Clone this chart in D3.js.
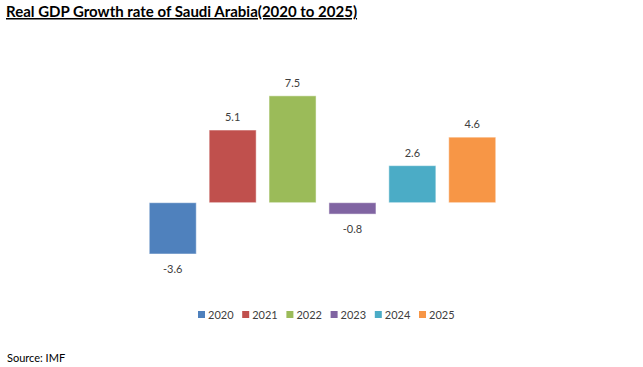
<!DOCTYPE html>
<html><head><meta charset="utf-8">
<script src="https://cdn.jsdelivr.net/npm/d3@7"></script>
<style>body{margin:0;background:#fff;} svg{display:block;}</style>
</head><body>
<svg id="c" width="643" height="367"></svg>
<script>
const years = ["2020","2021","2022","2023","2024","2025"];
const growth = [-3.6, 5.1, 7.5, -0.8, 2.6, 4.6];
const colors = ["#4F81BD","#C0504D","#9BBB59","#8064A2","#4BACC6","#F79646"];
const title = "Real GDP Growth rate of Saudi Arabia(2020 to 2025)";
const source = "Source: IMF";

const svg = d3.select("#c");
const font = "Lato, 'Open Sans', sans-serif";

const x = d3.scaleBand().domain(years).range([142.8, 502.2]).paddingInner(0.215).paddingOuter(0.1075);
const y = d3.scaleLinear().domain([-6, 10]).range([288.2, 60.2]);

svg.append("text").attr("x", 6).attr("y", 17).attr("font-family", font)
  .attr("font-size", 15).attr("font-weight", "bold").attr("fill", "#000")
  .attr("text-decoration", "underline").text(title);

svg.selectAll("rect.bar").data(years).join("rect").attr("class","bar")
  .attr("x", d => x(d))
  .attr("width", x.bandwidth())
  .attr("y", (d,i) => y(Math.max(0, growth[i])))
  .attr("height", (d,i) => Math.abs(y(growth[i]) - y(0)))
  .attr("fill", (d,i) => colors[i])
  .attr("stroke", "#ffffff").attr("stroke-opacity", 0.5).attr("stroke-width", 1);

svg.selectAll("text.lbl").data(years).join("text").attr("class","lbl")
  .attr("x", d => x(d) + x.bandwidth()/2)
  .attr("y", (d,i) => growth[i] >= 0 ? y(growth[i]) - 9 : y(growth[i]) + 19)
  .attr("text-anchor", "middle").attr("font-family", font).attr("font-size", 11)
  .attr("fill", "#404040").text((d,i) => growth[i]);

const lg = svg.append("g");
const legX = d3.scalePoint().domain(years).range([198, 419]);
years.forEach((yr, i) => {
  const g = lg.append("g").attr("transform", `translate(${legX(yr)},311)`);
  g.append("rect").attr("width", 7).attr("height", 7).attr("fill", colors[i]);
  g.append("text").attr("x", 10).attr("y", 7.5).attr("font-family", font).attr("font-size", 11)
    .attr("fill", "#404040").text(yr);
});

svg.append("text").attr("x", 7).attr("y", 362).attr("font-family", font).attr("font-size", 11)
  .attr("fill", "#000").text(source);
</script>
</body></html>
